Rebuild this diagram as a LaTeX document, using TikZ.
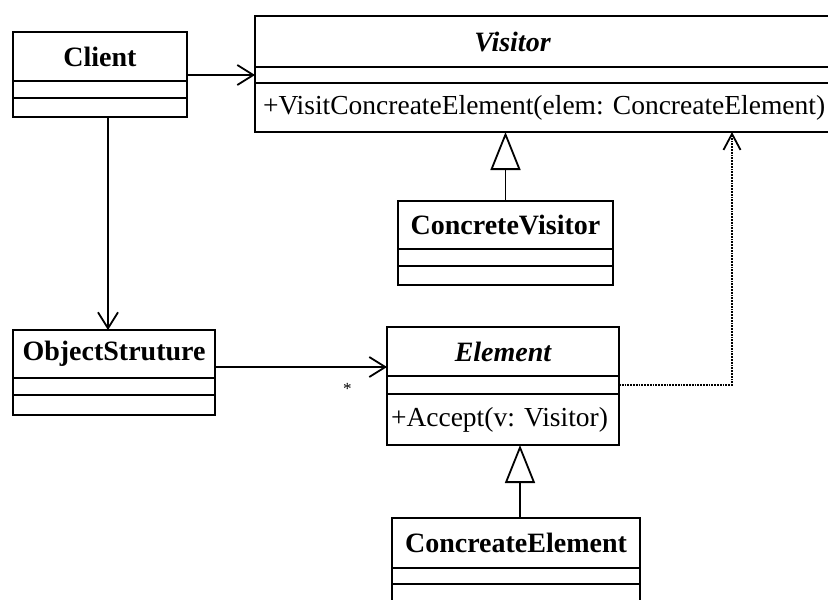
\documentclass[tikz,border=0pt]{standalone}
\usepackage{fontspec}
\setmainfont{Liberation Serif}
\frenchspacing
\usetikzlibrary{positioning,arrows.meta}
\tikzset{
  umlbox/.style={draw, line width=1.8pt, outer sep=0pt, inner sep=0pt, minimum width=#1},
  umlname/.style={umlbox=#1, anchor=north west, font=\fontsize{28}{31}\selectfont\bfseries},
  umlabstract/.style={umlname=#1, font=\fontsize{28}{31}\selectfont\bfseries\itshape},
  umlpart/.style={umlbox=#1, font=\fontsize{27.5}{30}\selectfont},
  assoc/.style={-{Straight Barb[length=16pt, width=20pt, line width=1.8pt]}, line width=1.8pt},
  depend/.style={-{Straight Barb[length=16pt, width=17pt, line width=1.8pt]}, densely dotted, line width=1.8pt},
  inherit/.style={-{Triangle[open, length=38pt, width=30pt, line width=1.8pt]}, line width=1.8pt}
}
\begin{document}
\begin{tikzpicture}[x=1pt, y=-1pt]
  \useasboundingbox (0,0) rectangle (828,600);
  \clip (0,0) rectangle (828,600);

  \node[umlname=174pt, minimum height=49pt] (clientname) at (13,32) {Client};
  \node[umlpart=174pt, minimum height=17pt, below=0pt of clientname] (clientattr) {};
  \node[umlpart=174pt, minimum height=19pt, below=0pt of clientattr] (clientop) {};

  \node[umlabstract=585pt, minimum height=51pt] (visitorname) at (255,16) {\hspace*{-70pt}Visitor};
  \node[umlpart=585pt, minimum height=16pt, below=0pt of visitorname] (visitorattr) {};
  \node[umlpart=585pt, minimum height=49pt, below=0pt of visitorattr, text width=569pt, inner xsep=8pt, align=left] (visitorop) {+VisitConcreateElement(elem: ConcreateElement)};

  \node[umlname=215pt, minimum height=48pt] (cvname) at (398,201) {ConcreteVisitor};
  \node[umlpart=215pt, minimum height=17pt, below=0pt of cvname] (cvattr) {};
  \node[umlpart=215pt, minimum height=19pt, below=0pt of cvattr] (cvop) {};

  \node[umlname=202pt, minimum height=48pt] (objname) at (13,330) {ObjectStruture};
  \node[umlpart=202pt, minimum height=17pt, below=0pt of objname] (objattr) {};
  \node[umlpart=202pt, minimum height=20pt, below=0pt of objattr] (objop) {};

  \node[umlabstract=232pt, minimum height=49pt] (elemname) at (387,327) {Element};
  \node[umlpart=232pt, minimum height=18pt, below=0pt of elemname] (elemattr) {};
  \node[umlpart=232pt, minimum height=51pt, below=0pt of elemattr, text width=224pt, inner xsep=4pt, align=left] (elemop) {+Accept(v: Visitor)};

  \node[umlname=248pt, minimum height=50pt] (cename) at (392,518) {ConcreateElement};
  \node[umlpart=248pt, minimum height=16pt, below=0pt of cename] (ceattr) {};
  \node[umlpart=248pt, minimum height=19pt, below=0pt of ceattr] (ceop) {};

  \draw[assoc] (visitorattr.west -| clientname.east) -- (visitorattr.west);
  \draw[assoc] (clientop.south) ++(8,0) coordinate (clientout) -- (clientout |- objname.north);
  \draw[assoc] (objname.east) ++(0,13) coordinate (objout) -- (objout -| elemname.west)
    node[pos=0.77, below=12pt, font=\fontsize{17}{19}\selectfont] (mult) {*};

  \draw[inherit] (cvname.north) -- (cvname.north |- visitorop.south);
  \draw[inherit] (cename.north) ++(4,0) coordinate (ceout) -- (ceout |- elemop.south);

  \coordinate (deptop) at (732,0);
  \draw[depend] (elemattr.east) -| (deptop |- visitorop.south);
\end{tikzpicture}
\end{document}
